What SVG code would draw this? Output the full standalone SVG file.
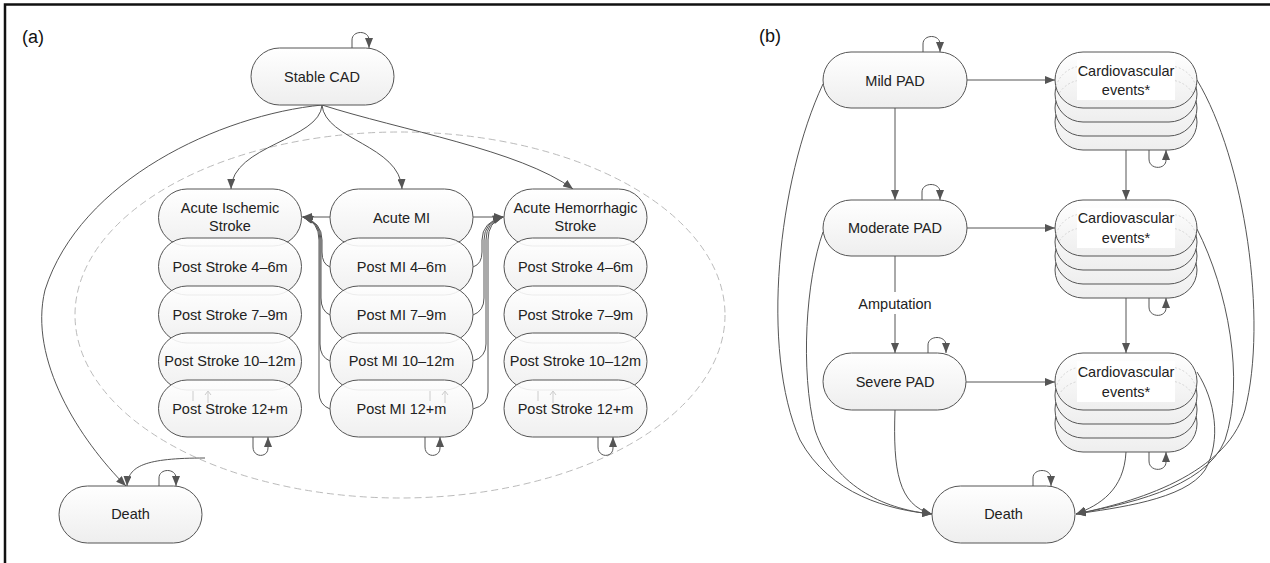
<svg xmlns="http://www.w3.org/2000/svg" width="1270" height="563" viewBox="0 0 1270 563">
<style>
.node{fill:url(#g);stroke:#555;stroke-width:1;fill-opacity:0.9}
.solid{fill:url(#g);stroke:#555;stroke-width:1}
.ghost{fill:none;stroke:#d4d4d4;stroke-width:1;stroke-dasharray:2,2}
.t{font-family:"Liberation Sans",Arial,sans-serif;font-size:14.5px;fill:#222;text-anchor:middle}
.p{font-family:"Liberation Sans",Arial,sans-serif;font-size:18px;fill:#111}
.e{fill:none;stroke:#555;stroke-width:1;marker-end:url(#arr)}
.l{fill:none;stroke:#555;stroke-width:1;marker-end:url(#sm)}
.f{fill:none;stroke:#ccc;stroke-width:1}
</style>
<defs>
<linearGradient id="g" x1="0" y1="0" x2="0" y2="1"><stop offset="0" stop-color="#ffffff"/><stop offset="1" stop-color="#eeeeee"/></linearGradient>
<marker id="arr" viewBox="0 0 10 8" refX="10" refY="4" markerWidth="10" markerHeight="8" markerUnits="userSpaceOnUse" orient="auto"><path d="M0,0 L10,4 L0,8 z" fill="#555"/></marker>
<marker id="sm" viewBox="0 0 10 8" refX="10" refY="4" markerWidth="10" markerHeight="8" markerUnits="userSpaceOnUse" orient="auto"><path d="M0,0 L10,4 L0,8 z" fill="#555"/></marker>
<clipPath id="c1"><rect x="1055" y="52" width="142" height="56" rx="28"/></clipPath>
<clipPath id="c2"><rect x="1055" y="200" width="142" height="56" rx="28"/></clipPath>
<clipPath id="c3"><rect x="1055" y="353" width="142" height="57" rx="28"/></clipPath>
</defs>
<rect width="1270" height="563" fill="#fff"/>
<path d="M5,563 V4.5 H1270" fill="none" stroke="#111" stroke-width="2.5"/>
<text class="p" x="22" y="43">(a)</text>
<text class="p" x="759" y="42">(b)</text>

<ellipse id="group-ellipse" cx="400" cy="315" rx="325" ry="183" fill="none" stroke="#bbb" stroke-width="1" stroke-dasharray="7,4"/>

<g id="connectors">
<path class="e" d="M322,105 C320,140 232,145 231,189"/>
<path class="e" d="M322,105 C325,140 400,145 402,189"/>
<path class="e" d="M322,105 C400,130 520,150 573,189"/>
<path class="e" d="M322,105 C220,115 80,180 45,290 C28,360 80,440 126,486"/>
<path class="e" d="M205,458 C145,458 128,466 127,486"/>
<path class="e" d="M330,217 L302,217"/>
<path class="e" d="M473,217 L504,217"/>
<path class="e" d="M330,267 Q322,264 322,252 L322,240 Q322,222 303,217"/>
<path class="e" d="M330,315 Q321,311 321,298 L321,240 Q321,222 303,217"/>
<path class="e" d="M330,361 Q320,357 320,344 L320,240 Q320,222 303,217"/>
<path class="e" d="M330,409 Q319,405 319,392 L319,240 Q319,222 303,217"/>
<path class="e" d="M473,267 Q482,264 482,252 L482,240 Q482,222 503,217"/>
<path class="e" d="M473,315 Q484,311 484,298 L484,240 Q484,222 503,217"/>
<path class="e" d="M473,361 Q486,357 486,344 L486,240 Q486,222 503,217"/>
<path class="e" d="M473,409 Q488,405 488,392 L488,240 Q488,222 503,217"/>
<path class="l" d="M352,48 V40 C352,30 369,30 369,40 V48"/>
<path class="l" d="M159,486 V478 C159,468 176,468 176,478 V486"/>
<path class="l" d="M253,437 V447 C253,458 268,458 268,448 V437"/>
<path class="l" d="M425,437 V447 C425,458 440,458 440,448 V437"/>
<path class="l" d="M598,437 V447 C598,458 613,458 613,448 V437"/>

<path class="e" d="M967,80 L1055,80"/>
<path class="e" d="M895,108 L895,200"/>
<path class="e" d="M1126,150 L1126,200"/>
<path class="e" d="M967,228 L1055,228"/>
<path class="e" d="M895,256 L895,353"/>
<path class="e" d="M1126,298 L1126,353"/>
<path class="e" d="M966,382 L1055,382"/>
<path class="e" d="M895,410 C893,470 898,505 932,514"/>
<path class="e" d="M823,84 C778,180 760,350 800,440 C830,495 890,510 932,514"/>
<path class="e" d="M823,232 C806,280 800,370 815,430 C835,490 890,510 932,514"/>
<path class="e" d="M1126,452 C1124,490 1100,505 1076,514"/>
<path class="e" d="M1197,80 C1245,160 1268,320 1245,410 C1225,480 1120,505 1076,514"/>
<path class="e" d="M1197,229 C1228,290 1245,380 1225,440 C1205,490 1120,505 1076,514"/>
<path class="e" d="M1197,372 C1215,400 1222,440 1205,470 C1185,500 1115,508 1076,514"/>
<path class="l" d="M923,52 V44 C923,34 940,34 940,44 V52"/>
<path class="l" d="M922,200 V192 C922,182 940,182 940,192 V200"/>
<path class="l" d="M928,353 V345 C928,335 946,335 946,345 V353"/>
<path class="l" d="M1033,486 V478 C1033,468 1051,468 1051,478 V486"/>
<path class="l" d="M1149,150 V159 C1149,170 1166,170 1166,160 V150"/>
<path class="l" d="M1149,298 V307 C1149,318 1166,318 1166,308 V298"/>
<path class="l" d="M1149,452 V461 C1149,472 1166,472 1166,462 V452"/>
<rect x="853" y="292" width="84" height="22" fill="#fff"/>
<text class="t" x="895" y="309">Amputation</text>
</g>

<g id="stable-cad"><rect class="solid" x="251" y="48" width="143" height="57" rx="28.5"/><text class="t" x="322" y="82">Stable CAD</text></g>
<g id="death-a"><rect class="solid" x="59" y="486" width="143" height="57" rx="28.5"/><text class="t" x="130.5" y="519">Death</text></g>

<g id="acute-ischemic"><rect class="node" x="158.5" y="189" width="143" height="57" rx="28.5"/><text class="t" x="230" y="213">Acute Ischemic</text><text class="t" x="230" y="231">Stroke</text></g>
<g id="is-4-6"><rect class="node" x="158.5" y="238" width="143" height="57" rx="28.5"/><text class="t" x="230" y="272">Post Stroke 4–6m</text></g>
<g id="is-7-9"><rect class="node" x="158.5" y="286" width="143" height="57" rx="28.5"/><text class="t" x="230" y="320">Post Stroke 7–9m</text></g>
<g id="is-10-12"><rect class="node" x="158.5" y="333" width="143" height="57" rx="28.5"/><text class="t" x="230" y="366">Post Stroke 10–12m</text></g>
<g id="is-12p"><rect class="node" x="158.5" y="380" width="143" height="57" rx="28.5"/><path class="f" d="M193,391 V401 M208,392 V403 M205,395 L208,391 L211,395"/><text class="t" x="230" y="414">Post Stroke 12+m</text></g>

<g id="acute-mi"><rect class="node" x="330" y="189" width="143" height="57" rx="28.5"/><text class="t" x="401.5" y="223">Acute MI</text></g>
<g id="mi-4-6"><rect class="node" x="330" y="238" width="143" height="57" rx="28.5"/><text class="t" x="401.5" y="272">Post MI 4–6m</text></g>
<g id="mi-7-9"><rect class="node" x="330" y="286" width="143" height="57" rx="28.5"/><text class="t" x="401.5" y="320">Post MI 7–9m</text></g>
<g id="mi-10-12"><rect class="node" x="330" y="333" width="143" height="57" rx="28.5"/><text class="t" x="401.5" y="366">Post MI 10–12m</text></g>
<g id="mi-12p"><rect class="node" x="330" y="380" width="143" height="57" rx="28.5"/><path class="f" d="M430,391 V401 M445,392 V403 M442,395 L445,391 L448,395"/><text class="t" x="401.5" y="414">Post MI 12+m</text></g>

<g id="acute-hem"><rect class="node" x="504" y="189" width="143" height="57" rx="28.5"/><text class="t" x="575.5" y="213">Acute Hemorrhagic</text><text class="t" x="575.5" y="231">Stroke</text></g>
<g id="hem-4-6"><rect class="node" x="504" y="238" width="143" height="57" rx="28.5"/><text class="t" x="575.5" y="272">Post Stroke 4–6m</text></g>
<g id="hem-7-9"><rect class="node" x="504" y="286" width="143" height="57" rx="28.5"/><text class="t" x="575.5" y="320">Post Stroke 7–9m</text></g>
<g id="hem-10-12"><rect class="node" x="504" y="333" width="143" height="57" rx="28.5"/><text class="t" x="575.5" y="366">Post Stroke 10–12m</text></g>
<g id="hem-12p"><rect class="node" x="504" y="380" width="143" height="57" rx="28.5"/><path class="f" d="M538,391 V401 M553,392 V403 M550,395 L553,391 L556,395"/><text class="t" x="575.5" y="414">Post Stroke 12+m</text></g>

<g id="mild-pad"><rect class="solid" x="823" y="52" width="144" height="56" rx="28"/><text class="t" x="895" y="86">Mild PAD</text></g>
<g id="moderate-pad"><rect class="solid" x="823" y="200" width="144" height="56" rx="28"/><text class="t" x="895" y="233">Moderate PAD</text></g>
<g id="severe-pad"><rect class="solid" x="823" y="353" width="143" height="57" rx="28.5"/><text class="t" x="895" y="387">Severe PAD</text></g>
<g id="death-b"><rect class="solid" x="932" y="486" width="143" height="57" rx="28.5"/><text class="t" x="1003.5" y="519">Death</text></g>

<g id="cv1">
<rect class="solid" x="1055" y="94" width="142" height="56" rx="28"/>
<rect class="solid" x="1055" y="80" width="142" height="56" rx="28"/>
<rect class="solid" x="1055" y="66" width="142" height="56" rx="28"/>
<rect class="solid" x="1055" y="52" width="142" height="56" rx="28"/>
<g clip-path="url(#c1)"><rect class="ghost" x="1055" y="66" width="142" height="56" rx="28"/><rect class="ghost" x="1055" y="80" width="142" height="56" rx="28"/></g>
<rect x="1077" y="60" width="98" height="40" fill="#fff"/>
<text class="t" x="1126" y="76">Cardiovascular</text><text class="t" x="1126" y="95">events*</text>
</g>
<g id="cv2">
<rect class="solid" x="1055" y="242" width="142" height="56" rx="28"/>
<rect class="solid" x="1055" y="228" width="142" height="56" rx="28"/>
<rect class="solid" x="1055" y="214" width="142" height="56" rx="28"/>
<rect class="solid" x="1055" y="200" width="142" height="56" rx="28"/>
<g clip-path="url(#c2)"><rect class="ghost" x="1055" y="214" width="142" height="56" rx="28"/><rect class="ghost" x="1055" y="228" width="142" height="56" rx="28"/></g>
<rect x="1077" y="208" width="98" height="40" fill="#fff"/>
<text class="t" x="1126" y="223">Cardiovascular</text><text class="t" x="1126" y="243">events*</text>
</g>
<g id="cv3">
<rect class="solid" x="1055" y="395" width="142" height="57" rx="28"/>
<rect class="solid" x="1055" y="381" width="142" height="57" rx="28"/>
<rect class="solid" x="1055" y="367" width="142" height="57" rx="28"/>
<rect class="solid" x="1055" y="353" width="142" height="57" rx="28"/>
<g clip-path="url(#c3)"><rect class="ghost" x="1055" y="367" width="142" height="57" rx="28"/><rect class="ghost" x="1055" y="381" width="142" height="57" rx="28"/></g>
<rect x="1077" y="361" width="98" height="41" fill="#fff"/>
<text class="t" x="1126" y="377">Cardiovascular</text><text class="t" x="1126" y="397">events*</text>
</g>
</svg>
